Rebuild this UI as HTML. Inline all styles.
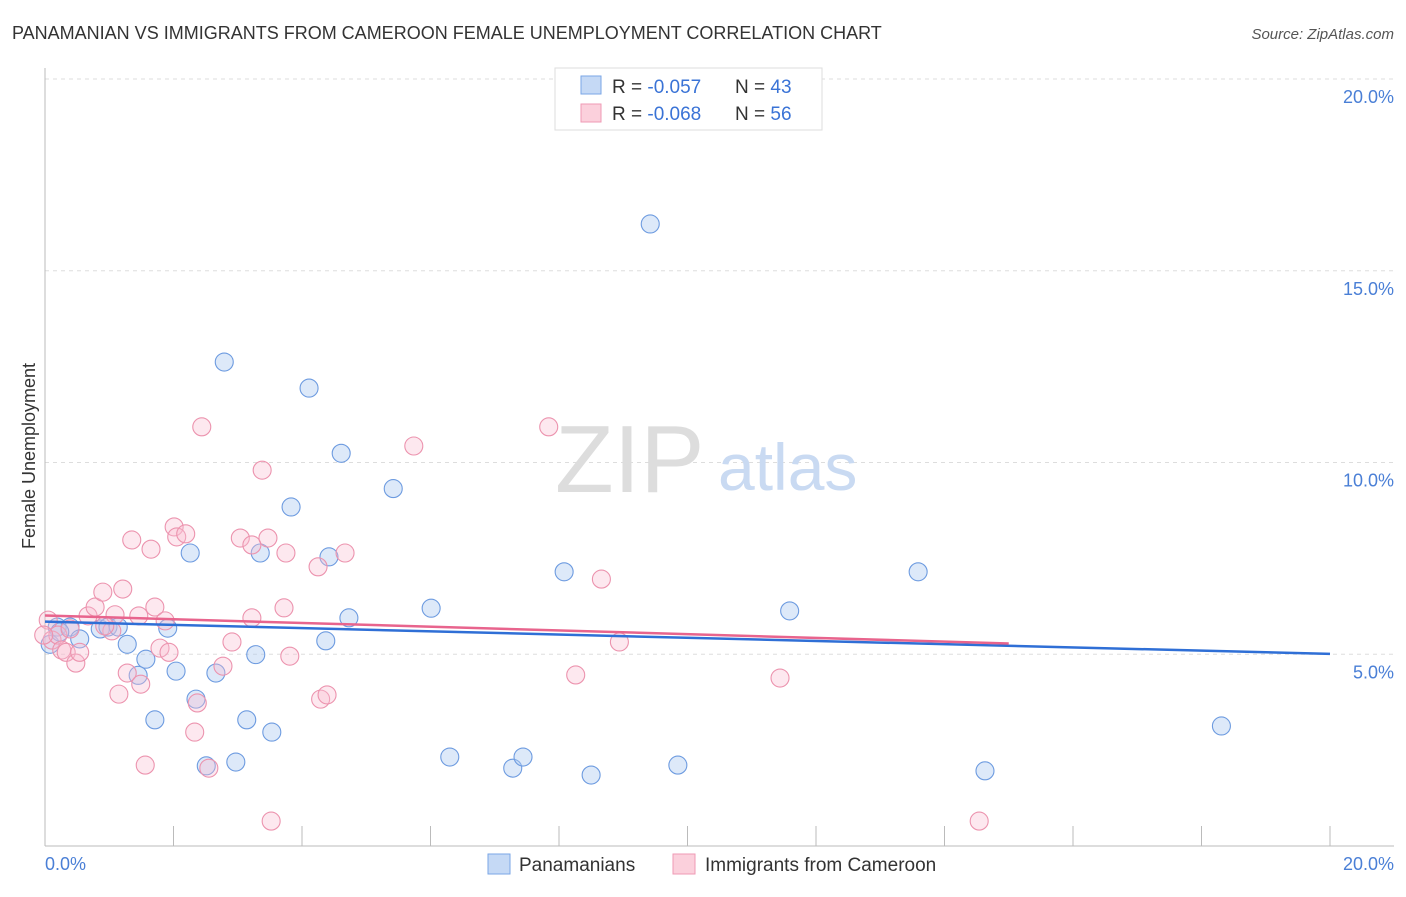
<!DOCTYPE html>
<html><head><meta charset="utf-8"><style>
body{margin:0;background:#fff;font-family:"Liberation Sans",sans-serif}
svg text{font-family:"Liberation Sans",sans-serif}
</style></head><body>
<svg width="1406" height="892">
<text x="12" y="39" font-size="18" fill="#333">PANAMANIAN VS IMMIGRANTS FROM CAMEROON FEMALE UNEMPLOYMENT CORRELATION CHART</text>
<text x="1394" y="39" font-size="15" fill="#555" font-style="italic" text-anchor="end">Source: ZipAtlas.com</text>
<text x="35" y="456" font-size="18" fill="#333" transform="rotate(-90 35 456)" text-anchor="middle">Female Unemployment</text>
<g id="grid"></g>
<line x1="45" y1="68" x2="45" y2="846" stroke="#bbb"/>
<line x1="45" y1="846" x2="1394" y2="846" stroke="#bbb"/>
<text x="555" y="492" font-size="96" fill="#ddd" font-family="Liberation Serif">ZIP</text>
<text x="718" y="490" font-size="66" fill="#c9daf2">atlas</text>
<g id="pts"></g>
<g id="lines"></g>
<text x="45" y="870" font-size="18" fill="#4a7fd6">0.0%</text>
<text x="1394" y="870" font-size="18" fill="#4a7fd6" text-anchor="end">20.0%</text>
<g>
<rect x="555" y="68" width="267" height="62" fill="#fff" stroke="#ddd"/>
<rect x="581" y="76" width="20" height="18" fill="#c5d9f5" stroke="#7aa6e6"/>
<rect x="581" y="104" width="20" height="18" fill="#fbd0dc" stroke="#ef9ab4"/>
<text x="612" y="93" font-size="19" fill="#333">R = <tspan fill="#3a73d6">-0.057</tspan></text>
<text x="735" y="93" font-size="19" fill="#333">N = <tspan fill="#3a73d6">43</tspan></text>
<text x="612" y="120" font-size="19" fill="#333">R = <tspan fill="#3a73d6">-0.068</tspan></text>
<text x="735" y="120" font-size="19" fill="#333">N = <tspan fill="#3a73d6">56</tspan></text>
</g>
<g>
<rect x="488" y="854" width="22" height="20" fill="#c5d9f5" stroke="#7aa6e6"/>
<text x="519" y="871" font-size="19" fill="#333">Panamanians</text>
<rect x="673" y="854" width="22" height="20" fill="#fbd0dc" stroke="#ef9ab4"/>
<text x="705" y="871" font-size="19" fill="#333">Immigrants from Cameroon</text>
</g>
</svg>
<script>
const blueX=[0.08,0.19,0.39,0.86,0.98,1.14,1.28,1.57,1.45,1.71,1.91,2.04,2.26,2.35,2.51,2.66,2.79,2.97,3.14,3.28,3.35,3.53,3.83,4.11,4.37,4.42,4.61,4.73,5.42,6.01,6.30,7.28,7.44,8.08,8.50,9.42,9.85,11.59,13.59,14.63,18.31,0.54,0.23];
const blueY=[5.26,5.71,5.71,5.66,5.71,5.71,5.26,4.87,4.45,3.29,5.68,4.56,7.64,3.83,2.09,4.51,12.62,2.19,3.29,4.99,7.64,2.97,8.84,11.94,5.35,7.54,10.24,5.95,9.32,6.20,2.32,2.03,2.32,7.15,1.85,16.22,2.11,6.13,7.15,1.96,3.13,5.40,5.58];
const pinkX=[0.05,0.11,0.20,0.26,0.33,0.48,0.54,0.67,0.78,0.90,1.04,1.09,1.15,1.21,1.28,1.35,1.46,1.49,1.56,1.65,1.71,1.79,1.87,1.93,2.01,2.05,2.19,2.37,2.33,2.44,2.55,2.77,2.91,3.04,3.22,3.22,3.38,3.47,3.52,3.72,3.75,3.81,4.25,4.29,4.39,4.67,5.74,7.84,8.26,8.66,8.94,11.44,14.54,-0.02,0.93,0.39];
const pinkY=[5.89,5.37,5.50,5.11,5.05,4.77,5.05,6.00,6.23,6.62,5.61,6.03,3.96,6.70,4.51,7.98,6.00,4.22,2.11,7.74,6.23,5.16,5.87,5.05,8.32,8.06,8.14,3.73,2.97,10.93,2.03,4.69,5.32,8.03,7.85,5.95,9.80,8.03,0.65,6.21,7.64,4.95,7.28,3.83,3.94,7.64,10.43,10.93,4.46,6.96,5.32,4.38,0.65,5.50,5.74,5.66];
const trendBlue=[5.85,5.01];
const trendPink=[6.01,5.28,15.0];
const yTicks=[5,10,15,20];
const yTickLabels=["5.0%","10.0%","15.0%","20.0%"];
const xTicks=[0,2,4,6,8,10,12,14,16,18,20];
const NS="http://www.w3.org/2000/svg";
const sx=v=>45+v*64.25, sy=v=>846-v*38.35;
function mk(t,a,p){const e=document.createElementNS(NS,t);for(const k in a)e.setAttribute(k,a[k]);p.appendChild(e);return e;}
const grid=document.getElementById('grid');
yTicks.forEach((v,i)=>{
 const l=mk('line',{x1:45,x2:1394,y1:sy(v),y2:sy(v),stroke:'#ddd','stroke-dasharray':'4,4'},grid);
 
 
 const t=mk('text',{x:1394,y:sy(v)+24,'font-size':18,fill:'#4a7fd6','text-anchor':'end'},grid);
 t.textContent=yTickLabels[i];
 
 
});
xTicks.forEach(v=>{
 const l=mk('line',{x1:sx(v),x2:sx(v),y1:826,y2:846,stroke:'#bbb'},grid);
 
 
});
const pts=document.getElementById('pts');
blueX.forEach((x,i)=>{
 const c=mk('circle',{cx:sx(x),cy:sy(blueY[i]),r:9,fill:'rgba(170,200,240,0.4)',stroke:'#6d9be0','stroke-width':1.1},pts);
 
 
});
pinkX.forEach((x,i)=>{
 const c=mk('circle',{cx:sx(x),cy:sy(pinkY[i]),r:9,fill:'rgba(248,190,208,0.35)',stroke:'#ec93ae','stroke-width':1.1},pts);
 
 
});
const lines=document.getElementById('lines');
const lb=mk('line',{x1:sx(0),y1:sy(trendBlue[0]),x2:sx(20),y2:sy(trendBlue[1]),stroke:'#2f6fd6','stroke-width':2.5},lines);


const lp=mk('line',{x1:sx(0),y1:sy(trendPink[0]),x2:sx(trendPink[2]),y2:sy(trendPink[1]),stroke:'#e8648d','stroke-width':2.5},lines);


</script>
</body></html>
